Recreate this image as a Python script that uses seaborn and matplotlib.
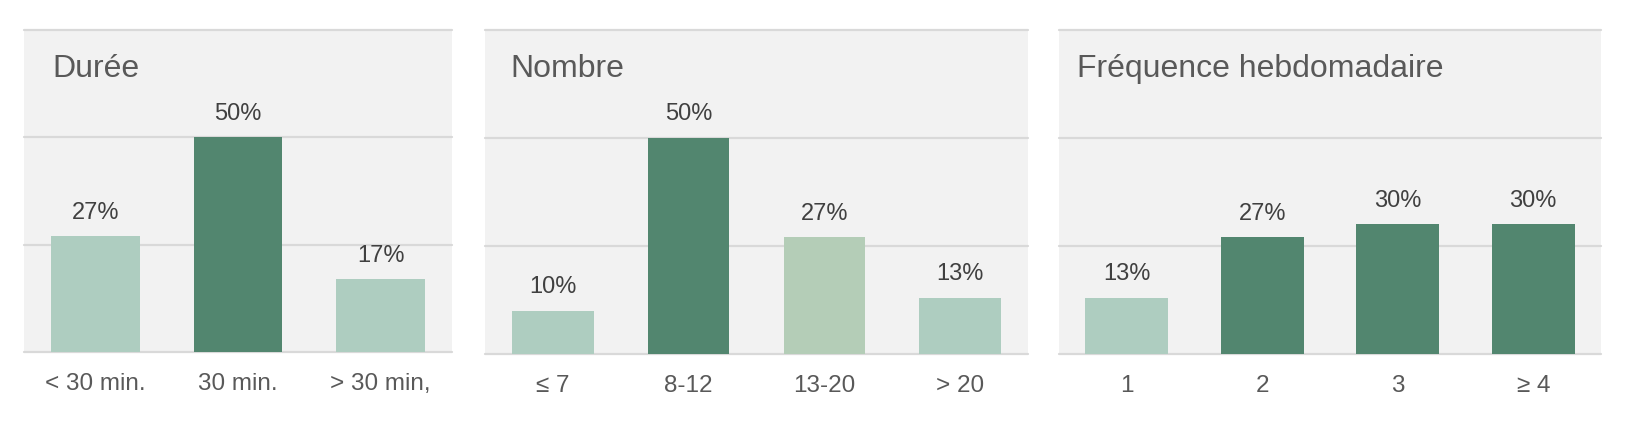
import matplotlib
matplotlib.use("Agg")
import matplotlib.pyplot as plt
import matplotlib.transforms as mtransforms
import seaborn as sns

# Données
duree_cats = ["< 30 min.", "30 min.", "> 30 min,"]
duree_vals = [27, 50, 17]

nombre_cats = ["≤ 7", "8-12", "13-20", "> 20"]
nombre_vals = [10, 50, 27, 13]

freq_cats = ["1", "2", "3", "≥ 4"]
freq_vals = [13, 27, 30, 30]

titles = ["Durée", "Nombre", "Fréquence hebdomadaire"]

DARK = "#52866f"
LIGHT = "#aecdc0"
SAGE = "#b4cdb7"

duree_colors = [LIGHT, DARK, LIGHT]
nombre_colors = [LIGHT, DARK, SAGE, LIGHT]
freq_colors = [LIGHT, DARK, DARK, DARK]

sns.set_theme(style="white")
plt.rcParams["font.family"] = ["Liberation Sans", "DejaVu Sans"]

W, H = 1627, 425
fig = plt.figure(figsize=(W / 100, H / 100), dpi=100)

# positions des panneaux en pixels : (gauche, droite, haut, bas, décalage titre, largeur barre)
boxes = [
    (24, 452, 30, 352, 28, 0.62),
    (485, 1028, 30, 354, 25, 0.60),
    (1059, 1601, 30, 354, 18, 0.61),
]
datasets = [
    (duree_cats, duree_vals, duree_colors),
    (nombre_cats, nombre_vals, nombre_colors),
    (freq_cats, freq_vals, freq_colors),
]

for (l, r, t, b, toff, bw), (cats, vals, cols), title in zip(boxes, datasets, titles):
    ax = fig.add_axes([l / W, 1 - b / H, (r - l) / W, (b - t) / H])
    ax.set_facecolor("#f2f2f2")
    sns.barplot(x=cats, y=vals, hue=cats, palette=cols, legend=False,
                width=bw, saturation=1, linewidth=0, ax=ax, zorder=2)
    ax.set_ylim(0, 75)
    ax.set_yticks([])
    for yv in [0, 25, 50, 75]:
        ax.axhline(yv, color="#d9d9d9", lw=1.6, zorder=1, clip_on=False)
    for s in ax.spines.values():
        s.set_visible(False)
    for cont in ax.containers:
        ax.bar_label(cont, fmt="%d%%", padding=9, fontsize=17, color="#404040")
    ax.tick_params(axis="x", length=0, pad=15, labelsize=17.5, labelcolor="#595959")
    ax.set_xlabel("")
    ax.set_ylabel("")
    trans = mtransforms.offset_copy(ax.transAxes, fig=fig, x=toff, y=-(77 - t), units="dots")
    ax.text(0, 1, title, transform=trans, fontsize=23, color="#595959",
            ha="left", va="baseline")

fig.savefig("out.png", dpi=100)
